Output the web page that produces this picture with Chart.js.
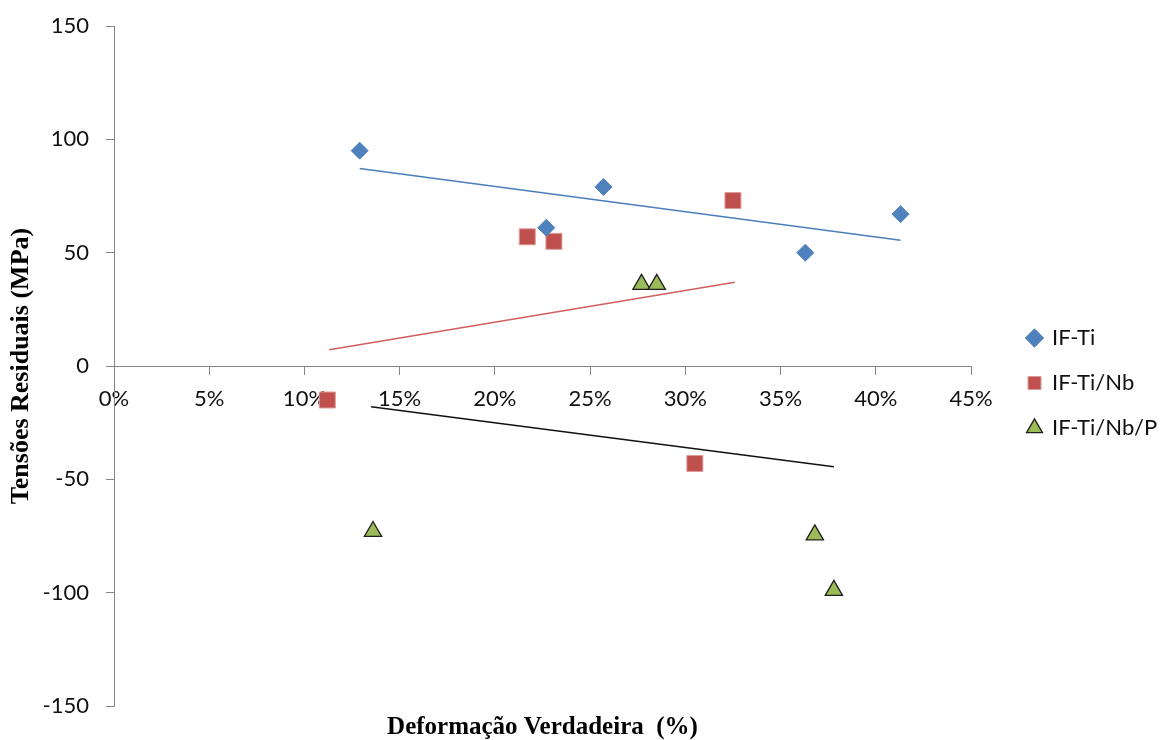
<!DOCTYPE html>
<html>
<head>
<meta charset="utf-8">
<script src="https://cdn.jsdelivr.net/npm/chart.js@4"></script>
<style>
  body { margin: 0; background: #fff; }
</style>
</head>
<body>
<canvas id="residualChart" width="1160" height="740"></canvas>
<script>
// values (x in %, y in MPa)
var ifTiX = [12.9, 22.7, 25.7, 36.3, 41.3];
var ifTiY = [95, 61, 79, 50, 67];
var ifTiNbX = [11.2, 21.7, 23.1, 30.5, 32.5];
var ifTiNbY = [-15, 57, 55, -43, 73];
var ifTiNbPX = [13.6, 27.7, 28.5, 36.8, 37.8];
var ifTiNbPY = [-73, 36, 36, -74.5, -99];

// trendline end points as drawn in the picture
var trendTiX = [12.9, 41.3];
var trendTiY = [87.1, 55.5];
var trendNbX = [11.3, 32.6];
var trendNbY = [7.2, 36.9];
var trendPX = [13.5, 37.8];
var trendPY = [-18.0, -44.4];

var seriesNames = ['IF-Ti', 'IF-Ti/Nb', 'IF-Ti/Nb/P'];
var xTicks = [0, 5, 10, 15, 20, 25, 30, 35, 40, 45];
var yTicks = [-150, -100, -50, 0, 50, 100, 150];

function toPoints(xs, ys) {
    var pts = [];
    for (var i = 0; i < xs.length; i++) {
        pts.push({ x: xs[i], y: ys[i] });
    }
    return pts;
}

var tickFont = { family: 'Lato', size: 22 };
var axisGrey = '#868686';

var ctx = document.getElementById('residualChart').getContext('2d');
var chart = new Chart(ctx, {
    type: 'scatter',
    data: {
        datasets: [{
            label: seriesNames[0],
            data: toPoints(ifTiX, ifTiY),
            pointStyle: 'rectRot',
            pointRadius: 8.5,
            backgroundColor: '#4F81BD',
            borderColor: '#4F81BD',
            borderWidth: 1,
            order: 0
        }, {
            label: seriesNames[1],
            data: toPoints(ifTiNbX, ifTiNbY),
            pointStyle: 'rect',
            pointRadius: 11.3,
            backgroundColor: '#C0504D',
            borderColor: '#dc9a98',
            borderWidth: 1,
            order: 0
        }, {
            label: seriesNames[2],
            data: toPoints(ifTiNbPX, ifTiNbPY),
            pointStyle: 'triangle',
            pointRadius: 10,
            backgroundColor: '#9BBB59',
            borderColor: '#1f1f1f',
            borderWidth: 1.3,
            order: 0
        }, {
            label: 'trend IF-Ti',
            data: toPoints(trendTiX, trendTiY),
            showLine: true,
            pointRadius: 0,
            borderColor: '#4a7ebb',
            borderWidth: 1.5,
            order: 1
        }, {
            label: 'trend IF-Ti/Nb',
            data: toPoints(trendNbX, trendNbY),
            showLine: true,
            pointRadius: 0,
            borderColor: '#d0605d',
            borderWidth: 1.5,
            order: 1
        }, {
            label: 'trend IF-Ti/Nb/P',
            data: toPoints(trendPX, trendPY),
            showLine: true,
            pointRadius: 0,
            borderColor: '#111111',
            borderWidth: 1.5,
            order: 1
        }]
    },
    options: {
        responsive: false,
        animation: false,
        layout: { padding: { top: 26, left: 0, right: 0, bottom: 0 } },
        plugins: {
            tooltip: { enabled: false },
            legend: {
                position: 'right',
                maxWidth: 155,
                labels: {
                    usePointStyle: true,
                    boxWidth: 13,
                    boxHeight: 13,
                    padding: 23,
                    color: '#111',
                    font: tickFont,
                    filter: function (item) { return item.datasetIndex < 3; }
                }
            },
            title: {
                display: true,
                position: 'bottom',
                fullSize: false,
                text: 'Deformação Verdadeira  (%)',
                color: '#000',
                font: { family: 'Liberation Serif', size: 25, weight: 'bold', lineHeight: 1 },
                padding: { top: 9, bottom: 0 }
            }
        },
        scales: {
            x: {
                type: 'linear',
                position: { y: 0 },
                min: xTicks[0],
                max: xTicks[xTicks.length - 1],
                afterBuildTicks: function (s) { s.ticks = xTicks.map(function (v) { return { value: v }; }); },
                ticks: {
                    padding: 12,
                    color: '#111',
                    font: tickFont,
                    maxRotation: 0,
                    autoSkip: false,
                    callback: function (v) { return v + '%'; }
                },
                grid: { display: true, drawOnChartArea: false, drawTicks: true, tickLength: 8, color: axisGrey },
                border: { display: true, color: axisGrey, width: 1 }
            },
            y: {
                position: 'left',
                min: yTicks[0],
                max: yTicks[yTicks.length - 1],
                afterBuildTicks: function (s) { s.ticks = yTicks.map(function (v) { return { value: v }; }); },
                ticks: { padding: 17, color: '#111', font: tickFont },
                grid: { display: true, drawOnChartArea: false, drawTicks: true, tickLength: 8, color: axisGrey },
                border: { display: true, color: axisGrey, width: 1 },
                title: {
                    display: true,
                    text: 'Tensões Residuais (MPa)',
                    color: '#000',
                    font: { family: 'Liberation Serif', size: 26, weight: 'bold' },
                    padding: { top: 6, bottom: 0 }
                },
                afterFit: function (s) {
                    s.width = 114;
                    // label padding pushes the plot down otherwise
                    s.paddingTop = 14;
                    s.paddingBottom = 14;
                }
            },
            gap: {
                type: 'linear',
                position: 'right',
                min: 0,
                max: 1,
                ticks: { display: false },
                grid: { display: false },
                border: { display: false },
                afterFit: function (s) { s.width = 34; }
            }
        }
    }
});
</script>
</body>
</html>
